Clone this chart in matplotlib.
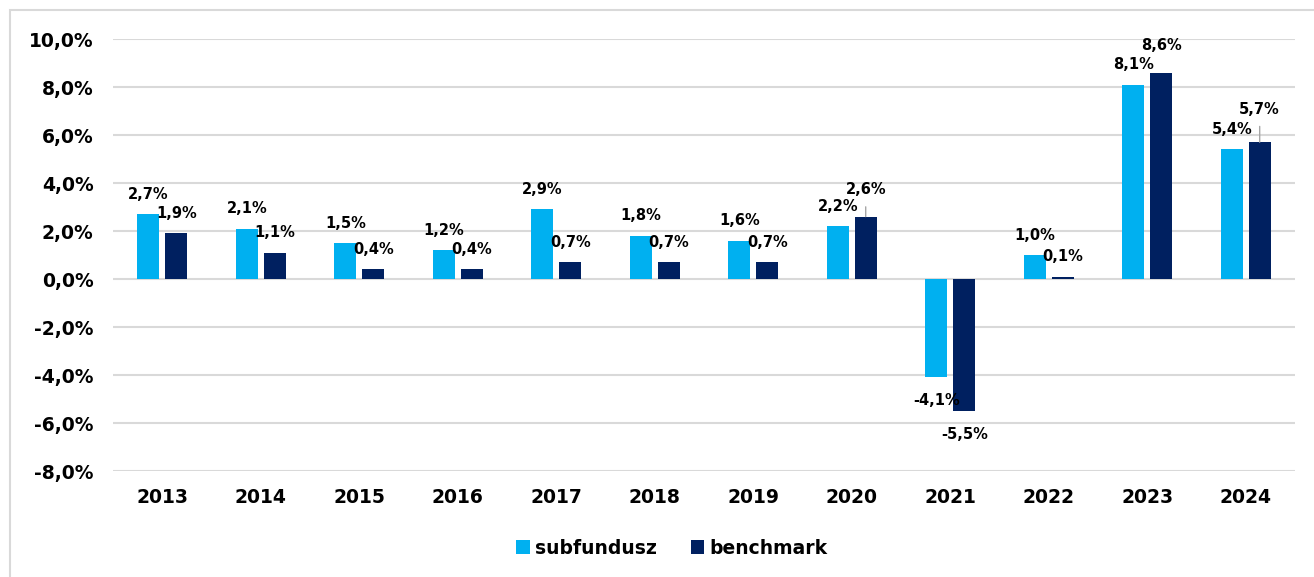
import matplotlib.pyplot as plt
from matplotlib.patches import Rectangle
import numpy as np

# Data
years = ["2013", "2014", "2015", "2016", "2017", "2018",
         "2019", "2020", "2021", "2022", "2023", "2024"]
subfundusz = [2.7, 2.1, 1.5, 1.2, 2.9, 1.8, 1.6, 2.2, -4.1, 1.0, 8.1, 5.4]
benchmark = [1.9, 1.1, 0.4, 0.4, 0.7, 0.7, 0.7, 2.6, -5.5, 0.1, 8.6, 5.7]
yticks = [-8, -6, -4, -2, 0, 2, 4, 6, 8, 10]

LIGHT = "#00B0F0"
NAVY = "#002060"
GRID = "#d9d9d9"

def fmt(v):
    return f"{v:.1f}%".replace(".", ",")

fig = plt.figure(figsize=(13.14, 5.77), dpi=100)
ax = fig.add_axes([0.086, 0.1837, 0.8995, 0.7487])

# chart border
fig.patches.append(Rectangle((10 / 1314, -0.05), 1.1, 1 - 10 / 577 + 0.05,
                             transform=fig.transFigure, fill=False,
                             edgecolor=GRID, linewidth=1.5))

x = np.arange(len(years))
w = 0.223
off = 0.142
b1 = ax.bar(x - off, subfundusz, w, color=LIGHT, zorder=3, label="subfundusz")
b2 = ax.bar(x + off, benchmark, w, color=NAVY, zorder=3, label="benchmark")

ax.set_xlim(-0.5, len(years) - 0.5)
ax.set_ylim(-8, 10)
ax.set_yticks(yticks)
ax.set_yticklabels([fmt(t) for t in yticks])
ax.set_xticks(x)
ax.set_xticklabels(years)
ax.grid(axis="y", color=GRID, linewidth=1.5, zorder=0)
for s in ax.spines.values():
    s.set_visible(False)
ax.tick_params(axis="both", length=0, labelsize=13.5)
ax.tick_params(axis="y", pad=14)
ax.tick_params(axis="x", pad=12)
for lab in ax.get_xticklabels() + ax.get_yticklabels():
    lab.set_fontweight("bold")

# data labels (pixel offsets converted to points)
extra_bench = {7: 7, 10: 7, 11: 13}
leader = {7, 11}
for i, v in enumerate(subfundusz):
    dy = 20 if v >= 0 else -23
    ax.annotate(fmt(v), (x[i] - off, v), xytext=(0, dy * 0.72),
                textcoords="offset points", ha="center", va="center",
                fontsize=10.5, fontweight="bold", zorder=5)
for i, v in enumerate(benchmark):
    dy = (20 + extra_bench.get(i, 0)) if v >= 0 else -23
    props = None
    if i in leader:
        props = dict(arrowstyle="-", color="#a6a6a6", lw=1,
                     shrinkA=5, shrinkB=0)
    ax.annotate(fmt(v), (x[i] + off, v), xytext=(0, dy * 0.72),
                textcoords="offset points", ha="center", va="center",
                fontsize=10.5, fontweight="bold", zorder=5, arrowprops=props)

fig.legend(handles=[b1, b2], labels=["subfundusz", "benchmark"],
           loc="center", bbox_to_anchor=(672 / 1314, 1 - 548 / 577),
           ncol=2, frameon=False, handlelength=0.7, handleheight=0.7,
           handletextpad=0.3, columnspacing=1.8,
           prop=dict(size=13.5, weight="bold"))

fig.savefig("out.png", dpi=100, facecolor="white")
